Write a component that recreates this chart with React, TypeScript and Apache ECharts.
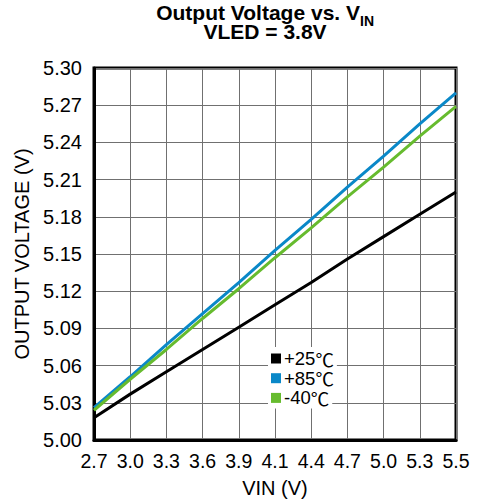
import React, { useEffect, useRef } from "react";
import * as echarts from "echarts";

const categories = ["2.7", "3.0", "3.3", "3.6", "3.9", "4.1", "4.4", "4.7", "5.0", "5.3", "5.5"];
const seriesNames = ["+25℃", "+85℃", "-40℃"];
const v25 = [5.018, 5.037, 5.055, 5.073, 5.091, 5.109, 5.127, 5.146, 5.164, 5.182, 5.2];
const v85 = [5.026, 5.051, 5.077, 5.102, 5.127, 5.153, 5.178, 5.204, 5.229, 5.255, 5.28];
const vm40 = [5.024, 5.049, 5.073, 5.098, 5.122, 5.147, 5.171, 5.196, 5.22, 5.245, 5.269];
const colors = ["#000000", "#0a88c8", "#66bb2e"];
const yBase = 5.0;
const yMinOffset = 0;
const yMaxOffset = 0.3;
const yStep = 0.03;

const FONT = "Liberation Sans, Arial, sans-serif";
const CJK = "Noto Sans CJK SC";

export default function App() {
  const ref = useRef<HTMLDivElement>(null);
  useEffect(() => {
    if (!ref.current) return;
    const chart = echarts.init(ref.current, undefined, { renderer: "svg" });
    const all = [v25, v85, vm40];
    const legends = seriesNames.map((name, i) => ({
      orient: "vertical",
      left: 268,
      top: 347 + 19.7 * i,
      backgroundColor: "#ffffff",
      padding: [2, 3, 1, 3],
      itemWidth: 10,
      itemHeight: 10,
      icon: "rect",
      data: [name],
      formatter: (n: string) => "{t|" + n.replace("℃", "") + "}{c|℃}",
      textStyle: {
        fontSize: 18.5,
        color: "#000",
        fontFamily: FONT,
        padding: [0, 0, 0, -2],
        rich: {
          t: { fontSize: 18.5, color: "#000", fontFamily: FONT },
          c: { fontSize: 18.5, color: "#000", fontFamily: CJK },
        },
      },
    }));
    chart.setOption({
      animation: false,
      backgroundColor: "#ffffff",
      textStyle: { fontFamily: FONT },
      graphic: [
        {
          type: "text",
          x: 360,
          y: 23,
          style: {
            text: "Output Voltage vs. V",
            font: "bold 21px Liberation Sans, Arial, sans-serif",
            fill: "#000",
            align: "right",
            verticalAlign: "bottom",
          },
        },
        {
          type: "text",
          x: 360,
          y: 28,
          style: {
            text: "IN",
            font: "bold 14px Liberation Sans, Arial, sans-serif",
            fill: "#000",
            align: "left",
            verticalAlign: "bottom",
          },
        },
        {
          type: "text",
          x: 265,
          y: 42,
          style: {
            text: "VLED = 3.8V",
            font: "bold 21px Liberation Sans, Arial, sans-serif",
            fill: "#000",
            align: "center",
            verticalAlign: "bottom",
          },
        },
      ],
      legend: legends,
      grid: {
        left: 94,
        top: 68,
        width: 362,
        height: 372,
        show: true,
        borderColor: "#000",
        borderWidth: 3,
        containLabel: false,
      },
      xAxis: {
        type: "category",
        data: categories,
        boundaryGap: false,
        name: "VIN (V)",
        nameLocation: "middle",
        nameGap: 38,
        nameTextStyle: { fontSize: 20, color: "#000", fontFamily: FONT },
        axisLine: { show: true, lineStyle: { color: "#000", width: 3 } },
        axisTick: { show: false },
        axisLabel: { fontSize: 19.5, color: "#000", margin: 11, interval: 0, fontFamily: FONT },
        splitLine: { show: true, lineStyle: { color: "#707070", width: 1 } },
      },
      yAxis: {
        type: "value",
        min: yMinOffset,
        max: yMaxOffset,
        interval: yStep,
        name: "OUTPUT VOLTAGE (V)",
        nameLocation: "middle",
        nameGap: 62,
        nameTextStyle: { fontSize: 20, color: "#000", fontFamily: FONT },
        axisLine: { show: true, lineStyle: { color: "#000", width: 3 } },
        axisTick: { show: false },
        axisLabel: {
          fontSize: 20,
          color: "#000",
          margin: 12,
          fontFamily: FONT,
          formatter: (v: number) => (yBase + v).toFixed(2),
        },
        splitLine: { show: true, lineStyle: { color: "#707070", width: 1 } },
      },
      series: seriesNames.map((name, i) => ({
        name,
        type: "line",
        data: all[i].map((v) => +(v - yBase).toFixed(4)),
        showSymbol: false,
        symbol: "none",
        lineStyle: { color: colors[i], width: 3 },
        itemStyle: { color: colors[i] },
        z: 3 + i,
      })),
    });
    return () => chart.dispose();
  }, []);
  return (
    <div
      ref={ref}
      style={{ position: "fixed", left: 0, top: 0, width: 477, height: 504 }}
    />
  );
}
